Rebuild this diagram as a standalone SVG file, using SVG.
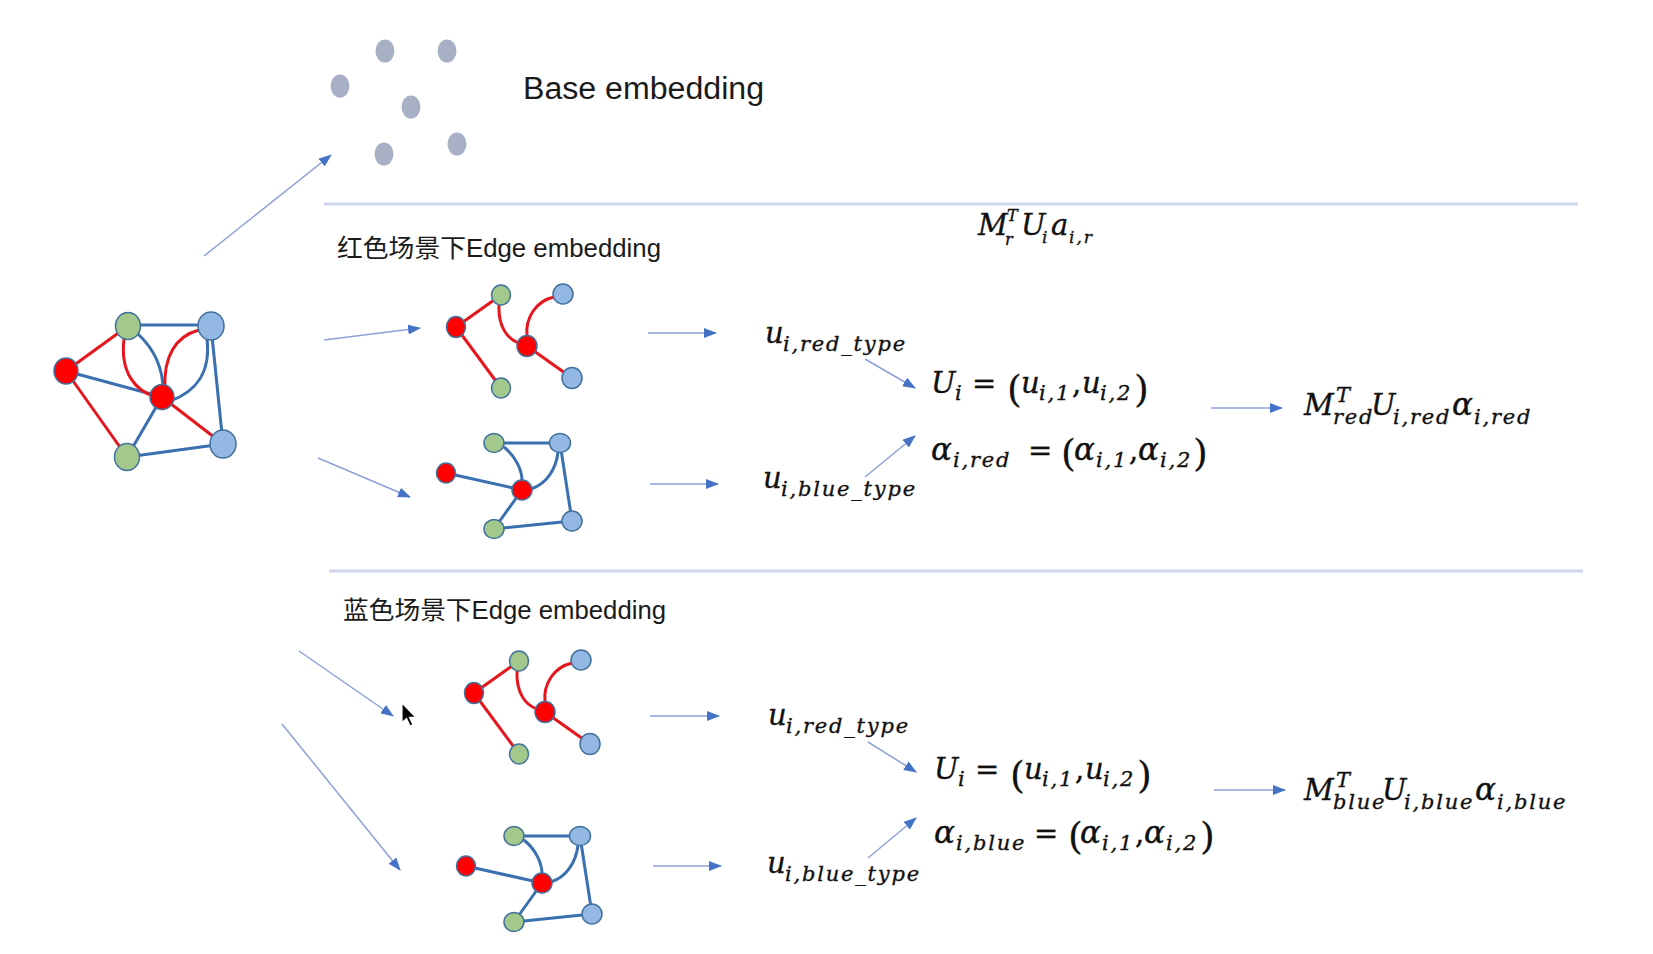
<svg xmlns="http://www.w3.org/2000/svg" width="1653" height="954" viewBox="0 0 1653 954">
<defs>
<marker id="ah" markerUnits="userSpaceOnUse" markerWidth="13" markerHeight="10" refX="12" refY="5" orient="auto">
<path d="M0,0 L13,5 L0,10 z" fill="#4472c4"/>
</marker>
<style>
.conn{stroke:#8da1d8;stroke-width:1.5;fill:none;marker-end:url(#ah)}
.sep{stroke:#cfd6ee;stroke-width:3}
.er{stroke:#e5161d;stroke-width:3;fill:none}
.eb{stroke:#3a6fb0;stroke-width:3;fill:none}
.nr{fill:#ff0000;stroke:#41719c;stroke-width:1.5}
.ng{fill:#a2c98b;stroke:#41719c;stroke-width:1.5}
.nb{fill:#93b8e3;stroke:#41719c;stroke-width:1.5}
.dot{fill:#a8b0c6}
.t{font-family:"Liberation Sans","Noto Sans CJK SC",sans-serif;fill:#1a1a1a}
.m{font-family:"DejaVu Serif",serif;font-style:italic;font-size:29px;fill:#111;stroke:#111;stroke-width:0.35}
.s{font-size:21px;letter-spacing:1.8px}
.a{font-size:31px}
.up{font-style:normal}
.p{font-style:normal;font-size:38px;stroke-width:0.2}
</style>
</defs>
<rect width="1653" height="954" fill="#ffffff"/>

<g id="base-dots">
<ellipse class="dot" cx="385" cy="51" rx="9.5" ry="11.5"/>
<ellipse class="dot" cx="447" cy="51" rx="9.5" ry="11.5"/>
<ellipse class="dot" cx="340" cy="86" rx="9.5" ry="11.5"/>
<ellipse class="dot" cx="411" cy="107" rx="9.5" ry="11.5"/>
<ellipse class="dot" cx="384" cy="154" rx="9.5" ry="11.5"/>
<ellipse class="dot" cx="457" cy="144" rx="9.5" ry="11.5"/>
</g>
<g id="label-base"><text class="t" x="523" y="99" font-size="31" textLength="241" lengthAdjust="spacingAndGlyphs">Base embedding</text></g>

<g id="separators">
<line class="sep" x1="324" y1="204" x2="1578" y2="204"/>
<line class="sep" x1="329" y1="571" x2="1583" y2="571"/>
</g>

<g id="label-red-scene"><text class="t" x="337" y="257" font-size="25" textLength="324" lengthAdjust="spacingAndGlyphs">红色场景下Edge embedding</text></g>
<g id="label-blue-scene"><text class="t" x="343" y="619" font-size="25" textLength="323" lengthAdjust="spacingAndGlyphs">蓝色场景下Edge embedding</text></g>

<g id="graph-full">
<path class="er" d="M66,371 L128,326"/>
<path class="er" d="M66,371 L127,457"/>
<path class="eb" d="M66,371 L162,397"/>
<path class="eb" d="M128,325 L211,325"/>
<path class="er" d="M124,339 C120,372 135,391 156,397"/>
<path class="eb" d="M138,334 C155,350 163,368 163,390"/>
<path class="er" d="M199,330 C176,336 163,356 165,390"/>
<path class="eb" d="M207,339 C211,372 196,392 170,401"/>
<path class="eb" d="M211,326 L223,444"/>
<path class="er" stroke-width="4" d="M162,397 L223,444"/>
<path class="eb" d="M162,397 L127,457"/>
<path class="eb" d="M127,457 L223,444"/>
<ellipse class="nr" cx="66" cy="371" rx="12" ry="13"/>
<ellipse class="ng" cx="128" cy="326" rx="12.5" ry="13.5"/>
<ellipse class="nb" cx="211" cy="326" rx="13" ry="14"/>
<ellipse class="nr" cx="162" cy="397" rx="12" ry="12.5"/>
<ellipse class="ng" cx="127" cy="457" rx="12.5" ry="13.5"/>
<ellipse class="nb" cx="223" cy="444" rx="13" ry="14"/>
</g>

<g id="graph-red-1">
<path class="er" d="M456,327 L501,295"/>
<path class="er" d="M456,327 L501,388"/>
<path class="er" d="M499,305 C498,326 507,339 519,343"/>
<path class="er" d="M554,297 C536,301 525,318 527,336"/>
<path class="er" stroke-width="3.5" d="M527,346 L572,378"/>
<ellipse class="nr" cx="456" cy="327" rx="9.5" ry="10.5"/>
<ellipse class="ng" cx="501" cy="295" rx="9.5" ry="10"/>
<ellipse class="nb" cx="563" cy="294" rx="10" ry="10"/>
<ellipse class="nr" cx="527" cy="346" rx="10" ry="10.5"/>
<ellipse class="ng" cx="501" cy="388" rx="9.5" ry="10"/>
<ellipse class="nb" cx="572" cy="378" rx="10" ry="10.5"/>
</g>

<g id="graph-blue-1">
<path class="eb" d="M446,473 L522,490"/>
<path class="eb" d="M494,443 L560,443"/>
<path class="eb" d="M504,447 C516,457 522,470 522,481"/>
<path class="eb" d="M558,452 C556,470 546,484 531,489"/>
<path class="eb" d="M560,443 L572,521"/>
<path class="eb" d="M522,490 L494,529"/>
<path class="eb" d="M494,529 L572,521"/>
<ellipse class="nr" cx="446" cy="473" rx="9.5" ry="10"/>
<ellipse class="ng" cx="494" cy="443" rx="10" ry="9.5"/>
<ellipse class="nb" cx="560" cy="443" rx="10.5" ry="9.5"/>
<ellipse class="nr" cx="522" cy="490" rx="10" ry="10"/>
<ellipse class="ng" cx="494" cy="529" rx="10" ry="9.5"/>
<ellipse class="nb" cx="572" cy="521" rx="10" ry="10"/>
</g>

<g id="graph-red-2" transform="translate(18,366)">
<path class="er" d="M456,327 L501,295"/>
<path class="er" d="M456,327 L501,388"/>
<path class="er" d="M499,305 C498,326 507,339 519,343"/>
<path class="er" d="M554,297 C536,301 525,318 527,336"/>
<path class="er" stroke-width="3.5" d="M527,346 L572,378"/>
<ellipse class="nr" cx="456" cy="327" rx="9.5" ry="10.5"/>
<ellipse class="ng" cx="501" cy="295" rx="9.5" ry="10"/>
<ellipse class="nb" cx="563" cy="294" rx="10" ry="10"/>
<ellipse class="nr" cx="527" cy="346" rx="10" ry="10.5"/>
<ellipse class="ng" cx="501" cy="388" rx="9.5" ry="10"/>
<ellipse class="nb" cx="572" cy="378" rx="10" ry="10.5"/>
</g>

<g id="graph-blue-2" transform="translate(20,393)">
<path class="eb" d="M446,473 L522,490"/>
<path class="eb" d="M494,443 L560,443"/>
<path class="eb" d="M504,447 C516,457 522,470 522,481"/>
<path class="eb" d="M558,452 C556,470 546,484 531,489"/>
<path class="eb" d="M560,443 L572,521"/>
<path class="eb" d="M522,490 L494,529"/>
<path class="eb" d="M494,529 L572,521"/>
<ellipse class="nr" cx="446" cy="473" rx="9.5" ry="10"/>
<ellipse class="ng" cx="494" cy="443" rx="10" ry="9.5"/>
<ellipse class="nb" cx="560" cy="443" rx="10.5" ry="9.5"/>
<ellipse class="nr" cx="522" cy="490" rx="10" ry="10"/>
<ellipse class="ng" cx="494" cy="529" rx="10" ry="9.5"/>
<ellipse class="nb" cx="572" cy="521" rx="10" ry="10"/>
</g>

<g id="connectors">
<line class="conn" x1="204" y1="256" x2="331" y2="155"/>
<line class="conn" x1="324" y1="340" x2="420" y2="328"/>
<line class="conn" x1="318" y1="458" x2="410" y2="497"/>
<line class="conn" x1="299" y1="651" x2="393" y2="716"/>
<line class="conn" x1="282" y1="724" x2="400" y2="870"/>
<line class="conn" x1="648" y1="333" x2="716" y2="333"/>
<line class="conn" x1="650" y1="484" x2="718" y2="484"/>
<line class="conn" x1="865" y1="359" x2="915" y2="388"/>
<line class="conn" x1="865" y1="477" x2="915" y2="436"/>
<line class="conn" x1="1211" y1="408" x2="1282" y2="408"/>
<line class="conn" x1="650" y1="716" x2="719" y2="716"/>
<line class="conn" x1="653" y1="866" x2="721" y2="866"/>
<line class="conn" x1="868" y1="742" x2="916" y2="772"/>
<line class="conn" x1="868" y1="858" x2="916" y2="818"/>
<line class="conn" x1="1214" y1="790" x2="1285" y2="790"/>
</g>

<g id="cursor" transform="translate(402,703) scale(1.15)">
<polygon points="0,0 0,17 4,13.5 7,20 9.5,19 6.5,12.5 12,12.5" fill="#000" stroke="#fff" stroke-width="1"/>
</g>

<g id="formula-top">
<text class="m" font-size="27" stroke-width="0.2"><tspan x="978" y="235">M</tspan><tspan x="1007" y="221" font-size="16">T</tspan><tspan x="1005" y="245" font-size="16">r</tspan><tspan x="1021" y="235">U</tspan><tspan x="1042" y="243" font-size="17">i</tspan><tspan x="1051" y="235">a</tspan><tspan x="1069" y="243" font-size="17" letter-spacing="2">i,r</tspan></text>
</g>

<g id="u-red-type-1">
<text class="m"><tspan x="765" y="343">u</tspan><tspan class="s" x="783" y="351">i,red_type</tspan></text>
</g>
<g id="U-eq-1">
<text class="m"><tspan x="931" y="393">U</tspan><tspan class="s" x="955" y="400">i</tspan><tspan class="up" x="972" y="393">=</tspan><tspan class="p" x="1007" y="402">(</tspan><tspan x="1021" y="393">u</tspan><tspan class="s" x="1039" y="400">i,1</tspan><tspan class="up" x="1072" y="393">,</tspan><tspan x="1082" y="393">u</tspan><tspan class="s" x="1100" y="400">i,2</tspan><tspan class="p" x="1134" y="402">)</tspan></text>
</g>
<g id="alpha-red-1">
<text class="m"><tspan class="a" x="931" y="460">α</tspan><tspan class="s" x="953" y="467">i,red</tspan><tspan class="up" x="1028" y="460">=</tspan><tspan class="p" x="1061" y="466">(</tspan><tspan class="a" x="1074" y="460">α</tspan><tspan class="s" x="1096" y="467">i,1</tspan><tspan class="up" x="1129" y="460">,</tspan><tspan class="a" x="1138" y="460">α</tspan><tspan class="s" x="1160" y="467">i,2</tspan><tspan class="p" x="1193" y="466">)</tspan></text>
</g>
<g id="u-blue-type-1">
<text class="m"><tspan x="763" y="488">u</tspan><tspan class="s" x="781" y="496" letter-spacing="1.5">i,blue_type</tspan></text>
</g>
<g id="M-red">
<text class="m"><tspan x="1304" y="415">M</tspan><tspan class="s" x="1336" y="402" font-size="19">T</tspan><tspan class="s" x="1333" y="424" letter-spacing="0.5">red</tspan><tspan x="1371" y="415">U</tspan><tspan class="s" x="1393" y="424">i,red</tspan><tspan class="a" x="1452" y="415">α</tspan><tspan class="s" x="1474" y="424">i,red</tspan></text>
</g>

<g id="u-red-type-2">
<text class="m"><tspan x="768" y="725">u</tspan><tspan class="s" x="786" y="733">i,red_type</tspan></text>
</g>
<g id="U-eq-2">
<text class="m"><tspan x="934" y="779">U</tspan><tspan class="s" x="958" y="786">i</tspan><tspan class="up" x="975" y="779">=</tspan><tspan class="p" x="1010" y="788">(</tspan><tspan x="1024" y="779">u</tspan><tspan class="s" x="1042" y="786">i,1</tspan><tspan class="up" x="1075" y="779">,</tspan><tspan x="1085" y="779">u</tspan><tspan class="s" x="1103" y="786">i,2</tspan><tspan class="p" x="1137" y="788">)</tspan></text>
</g>
<g id="alpha-blue-2">
<text class="m"><tspan class="a" x="934" y="843">α</tspan><tspan class="s" x="956" y="850">i,blue</tspan><tspan class="up" x="1034" y="843">=</tspan><tspan class="p" x="1068" y="849">(</tspan><tspan class="a" x="1080" y="843">α</tspan><tspan class="s" x="1102" y="850">i,1</tspan><tspan class="up" x="1135" y="843">,</tspan><tspan class="a" x="1144" y="843">α</tspan><tspan class="s" x="1166" y="850">i,2</tspan><tspan class="p" x="1200" y="849">)</tspan></text>
</g>
<g id="u-blue-type-2">
<text class="m"><tspan x="767" y="873">u</tspan><tspan class="s" x="785" y="881" letter-spacing="1.5">i,blue_type</tspan></text>
</g>
<g id="M-blue">
<text class="m"><tspan x="1304" y="800">M</tspan><tspan class="s" x="1336" y="787" font-size="19">T</tspan><tspan class="s" x="1333" y="809" letter-spacing="0.5">blue</tspan><tspan x="1382" y="800">U</tspan><tspan class="s" x="1404" y="809">i,blue</tspan><tspan class="a" x="1475" y="800">α</tspan><tspan class="s" x="1497" y="809">i,blue</tspan></text>
</g>
</svg>
